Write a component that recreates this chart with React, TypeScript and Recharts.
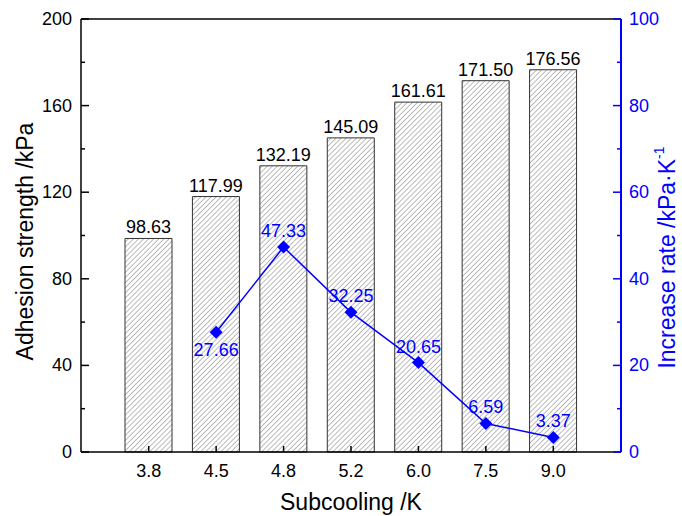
import { Bar, ComposedChart, Line, XAxis, YAxis, LabelList, ReferenceLine } from "recharts"

const categories = ["3.8", "4.5", "4.8", "5.2", "6.0", "7.5", "9.0"]
const adhesion = [98.63, 117.99, 132.19, 145.09, 161.61, 171.5, 176.56]
const increaseRate = [null, 27.66, 47.33, 32.25, 20.65, 6.59, 3.37]
const leftTicks = [0, 20, 40, 60, 80, 100, 120, 140, 160, 180, 200]
const rightTicks = [0, 10, 20, 30, 40, 50, 60, 70, 80, 90, 100]

const data = categories.map((c, i) => ({ cat: c, adhesion: adhesion[i], rate: increaseRate[i] }))

const BLUE = "#0000ff"
const FONT = "'Liberation Sans', Arial, sans-serif"

function LeftTick(props: any) {
  const { x, y, payload } = props
  const major = payload.value % 40 === 0
  return (
    <g>
      <line x1={x} x2={x + (major ? 8 : 4)} y1={y} y2={y} stroke="#000" strokeWidth={1.5} />
      {major && (
        <text x={x - 9} y={y} textAnchor="end" dominantBaseline="central" fontSize={18} fill="#000" fontFamily={FONT}>
          {payload.value}
        </text>
      )}
    </g>
  )
}

function RightTick(props: any) {
  const { x, y, payload } = props
  const major = payload.value % 20 === 0
  return (
    <g>
      <line x1={x} x2={x - (major ? 8 : 4)} y1={y} y2={y} stroke={BLUE} strokeWidth={1.5} />
      {major && (
        <text x={x + 8} y={y} textAnchor="start" dominantBaseline="central" fontSize={18} fill={BLUE} fontFamily={FONT}>
          {payload.value}
        </text>
      )}
    </g>
  )
}

function BottomTick(props: any) {
  const { x, y, payload } = props
  return (
    <g>
      <line x1={x} x2={x} y1={y} y2={y - 6} stroke="#000" strokeWidth={1.5} />
      <text x={x} y={y + 19} textAnchor="middle" dominantBaseline="central" fontSize={18} fill="#000" fontFamily={FONT}>
        {payload.value}
      </text>
    </g>
  )
}

function Diamond(props: any) {
  const { cx, cy, payload } = props
  if (payload == null || payload.rate == null || cy == null) return null
  const r = 6.5
  return <polygon points={`${cx},${cy - r} ${cx + r},${cy} ${cx},${cy + r} ${cx - r},${cy}`} fill={BLUE} />
}

function RateLabel(props: any) {
  const { x, y, value, index } = props
  if (value == null) return null
  const below = index === 1
  return (
    <text x={x} y={below ? y + 18 : y - 16} textAnchor="middle" dominantBaseline="central" fontSize={18} fill={BLUE} fontFamily={FONT}>
      {Number(value).toFixed(2)}
    </text>
  )
}

function LeftTitle(props: any) {
  const vb = props.viewBox
  const cy = vb.y + vb.height / 2 + 6
  return (
    <text x={25} y={cy} transform={`rotate(-90, 25, ${cy})`} textAnchor="middle" dominantBaseline="central" fontSize={23} fill="#000" fontFamily={FONT}>
      Adhesion strength /kPa
    </text>
  )
}

function RightTitle(props: any) {
  const vb = props.viewBox
  const cy = vb.y + vb.height / 2 + 22
  const cx = vb.x + 46
  return (
    <text x={cx} y={cy} transform={`rotate(-90, ${cx}, ${cy})`} textAnchor="middle" dominantBaseline="central" fontSize={23} fill={BLUE} fontFamily={FONT}>
      Increase rate /kPa·K<tspan dy={-8} fontSize={14}>-1</tspan>
    </text>
  )
}

export default function App() {
  return (
    <div style={{ position: "absolute", left: 0, top: 0, background: "#fff" }}>
      <ComposedChart width={682} height={516} data={data} margin={{ top: 19, right: 0, left: 0, bottom: 0 }}>
        <defs>
          <pattern id="hatch" patternUnits="userSpaceOnUse" width={3.6} height={3.6} patternTransform="rotate(45)">
            <line x1={0} y1={0} x2={0} y2={3.6} stroke="#555" strokeWidth={0.8} />
          </pattern>
        </defs>
        <XAxis
          dataKey="cat"
          height={64}
          padding={{ left: 34, right: 34 }}
          axisLine={{ stroke: "#000", strokeWidth: 1.5 }}
          tickLine={false}
          tickSize={0}
          tickMargin={0}
          tick={<BottomTick />}
          label={{ value: "Subcooling /K", position: "insideBottom", offset: 6, fontSize: 23, fill: "#000", fontFamily: FONT }}
        />
        <YAxis
          yAxisId="left"
          width={81}
          domain={[0, 200]}
          ticks={leftTicks}
          interval={0}
          axisLine={{ stroke: "#000", strokeWidth: 1.5 }}
          tickLine={false}
          tickSize={0}
          tickMargin={0}
          tick={<LeftTick />}
          label={{ content: (p: any) => <LeftTitle {...p} /> }}
        />
        <YAxis
          yAxisId="right"
          orientation="right"
          width={61}
          domain={[0, 100]}
          ticks={rightTicks}
          interval={0}
          axisLine={{ stroke: BLUE, strokeWidth: 2 }}
          tickLine={false}
          tickSize={0}
          tickMargin={0}
          tick={<RightTick />}
          label={{ content: (p: any) => <RightTitle {...p} /> }}
        />
        <ReferenceLine yAxisId="left" y={200} stroke="#000" strokeWidth={1.5} />
        <Bar yAxisId="left" dataKey="adhesion" barSize={47} fill="url(#hatch)" stroke="#333" strokeWidth={1} isAnimationActive={false}>
          <LabelList
            dataKey="adhesion"
            position="top"
            offset={5}
            formatter={(v: any) => Number(v).toFixed(2)}
            style={{ fontSize: 18, fill: "#000", fontFamily: FONT }}
          />
        </Bar>
        <Line
          yAxisId="right"
          dataKey="rate"
          stroke={BLUE}
          strokeWidth={1.5}
          dot={<Diamond />}
          activeDot={false}
          connectNulls
          isAnimationActive={false}
        >
          <LabelList dataKey="rate" content={<RateLabel />} />
        </Line>
      </ComposedChart>
    </div>
  )
}
